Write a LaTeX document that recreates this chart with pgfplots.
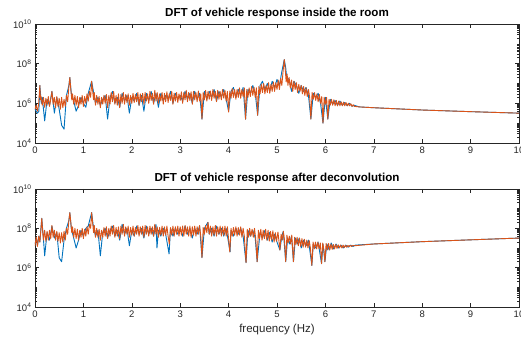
\documentclass[border=0pt]{standalone}
\usepackage{fontspec}
\setmainfont{Liberation Sans}
\usepackage{pgfplots}
\pgfplotsset{compat=1.18}
\usepackage{pgfplotstable}
\definecolor{mblue}{rgb}{0,0.447,0.741}
\definecolor{morange}{rgb}{0.85,0.325,0.098}
\definecolor{axgray}{rgb}{0.15,0.15,0.15}

% blue series, top panel
\pgfplotstableread{
x b
0.00 5.0e5
0.05 3.2e5
0.08 4.0e5
0.10 7.9e6
0.13 1.0e6
0.15 2.0e6
0.20 1.3e5
0.25 1.6e6
0.30 7.9e5
0.35 4.0e6
0.40 3.2e5
0.45 2.0e6
0.50 5.0e5
0.55 7.9e4
0.60 5.0e4
0.65 2.5e6
0.70 7.9e6
0.72 2.0e7
0.75 3.2e6
0.80 1.3e6
0.85 4.0e5
0.90 7.9e5
0.95 2.0e6
1.00 1.0e6
1.05 6.3e5
1.10 3.2e6
1.17 1.3e7
1.20 5.0e6
1.25 1.0e6
1.30 2.0e6
1.35 7.9e5
1.40 1.6e6
1.45 2.5e6
1.50 1.6e5
1.55 2.0e6
1.60 4.0e6
1.65 1.0e6
1.70 2.0e6
1.75 6.3e5
1.80 3.2e6
1.85 1.3e6
1.90 2.5e6
1.95 3.2e5
2.00 2.0e6
2.05 1.3e6
2.10 3.2e6
2.15 7.9e5
2.20 2.5e6
2.25 4.0e5
2.30 3.2e6
2.35 1.3e6
2.40 4.0e6
2.45 1.0e6
2.50 3.2e6
2.55 6.3e5
2.60 3.2e6
2.65 1.3e6
2.70 2.5e6
2.75 1.6e6
2.80 4.0e6
2.85 1.0e6
2.90 3.2e6
2.95 1.6e6
3.00 2.5e6
3.05 1.3e6
3.10 4.0e6
3.15 1.6e6
3.20 3.2e6
3.25 1.0e6
3.30 4.0e6
3.35 1.6e6
3.40 3.2e6
3.45 1.6e5
3.50 4.0e6
3.55 1.6e6
3.60 4.0e6
3.65 2.0e6
3.70 5.0e6
3.75 1.3e6
3.80 4.0e6
3.85 2.0e6
3.90 5.0e6
3.95 1.6e6
4.00 4.0e5
4.05 4.0e6
4.10 6.3e6
4.15 2.0e6
4.20 5.0e6
4.25 2.5e6
4.30 6.3e6
4.35 1.6e5
4.40 5.0e6
4.45 3.2e6
4.50 7.9e6
4.55 3.2e6
4.60 2.5e5
4.65 7.9e6
4.70 1.3e7
4.75 5.0e6
4.80 1.0e7
4.85 4.0e6
4.90 1.3e7
4.95 6.3e6
5.00 1.6e7
5.05 7.9e6
5.10 4.0e7
5.15 1.6e8
5.18 6.3e7
5.20 2.0e7
5.25 1.6e7
5.30 4.0e6
5.35 1.3e7
5.40 7.9e6
5.45 3.2e6
5.50 7.9e6
5.55 4.0e6
5.60 6.3e6
5.65 2.5e6
5.70 1.6e5
5.75 3.2e6
5.80 2.0e6
5.85 3.2e6
5.90 1.0e6
5.95 1.0e5
6.00 2.0e6
6.05 1.6e5
6.10 1.6e6
6.15 8.9e5
6.20 1.4e6
6.25 7.9e5
6.30 1.3e6
6.35 7.9e5
6.40 1.1e6
6.45 7.6e5
6.50 1.0e6
6.55 7.1e5
6.60 7.9e5
6.70 6.6e5
7.00 6.0e5
8.00 4.6e5
9.00 3.8e5
10.00 3.2e5
}\topblue

% orange series, top panel
\pgfplotstableread{
x o
0.000 5.0e5
0.025 8.0e5
0.050 4.0e5
0.075 9.0e5
0.100 7.9e6
0.115 1.5e6
0.125 2.2e6
0.150 8.0e5
0.175 2.0e6
0.200 6.3e5
0.225 1.8e6
0.250 8.0e5
0.275 2.2e6
0.300 7.0e5
0.325 1.6e6
0.350 4.0e6
0.375 9.0e5
0.400 2.0e6
0.425 6.0e5
0.450 2.2e6
0.475 7.0e5
0.500 1.8e6
0.525 5.0e5
0.550 2.0e6
0.575 6.0e5
0.600 1.6e6
0.625 7.0e5
0.650 2.5e6
0.675 1.2e6
0.700 7.0e6
0.720 2.0e7
0.740 5.0e6
0.760 1.5e6
0.775 3.0e6
0.800 9.0e5
0.825 2.5e6
0.850 8.0e5
0.875 2.2e6
0.900 6.0e5
0.925 2.0e6
0.950 9.0e5
0.975 2.5e6
1.000 7.0e5
1.025 2.2e6
1.050 1.0e6
1.075 3.0e6
1.100 1.3e6
1.125 4.0e6
1.150 2.0e6
1.170 1.3e7
1.190 4.5e6
1.210 1.5e6
1.225 3.5e6
1.250 8.0e5
1.275 2.5e6
1.300 9.0e5
1.325 2.2e6
1.350 6.0e5
1.375 2.0e6
1.400 9.0e5
1.425 2.5e6
1.450 1.0e6
1.475 2.8e6
1.500 6.0e5
1.525 2.5e6
1.550 9.0e5
1.575 3.5e6
1.600 1.2e6
1.625 4.0e6
1.650 9.0e5
1.675 2.5e6
1.700 8.0e5
1.725 3.0e6
1.750 6.0e5
1.775 2.8e6
1.800 1.0e6
1.825 3.5e6
1.850 9.0e5
1.875 2.8e6
1.900 1.1e6
1.925 3.0e6
1.950 8.0e5
1.975 2.5e6
2.000 1.0e6
2.025 3.2e6
2.050 1.1e6
2.075 2.8e6
2.100 1.2e6
2.125 3.5e6
2.150 8.0e5
2.175 3.0e6
2.200 1.2e6
2.225 3.2e6
2.250 9.0e5
2.275 3.5e6
2.300 1.3e6
2.325 3.0e6
2.350 1.0e6
2.375 4.0e6
2.400 1.4e6
2.425 3.2e6
2.450 9.0e5
2.475 4.5e6
2.500 1.3e6
2.525 3.5e6
2.550 1.0e6
2.575 3.0e6
2.600 1.3e6
2.625 3.5e6
2.650 9.0e5
2.675 3.2e6
2.700 1.2e6
2.725 3.8e6
2.750 1.1e6
2.775 3.0e6
2.800 1.4e6
2.825 4.0e6
2.850 9.0e5
2.875 3.2e6
2.900 1.3e6
2.925 3.5e6
2.950 1.1e6
2.975 3.0e6
3.000 1.4e6
3.025 3.8e6
3.050 1.0e6
3.075 3.5e6
3.100 1.5e6
3.125 4.5e6
3.150 1.2e6
3.175 3.5e6
3.200 1.4e6
3.225 3.8e6
3.250 9.0e5
3.275 4.0e6
3.300 1.5e6
3.325 3.5e6
3.350 1.2e6
3.375 4.2e6
3.400 1.3e6
3.425 3.0e6
3.450 1.6e5
3.475 3.5e6
3.500 1.5e6
3.525 4.5e6
3.550 1.3e6
3.575 4.0e6
3.600 1.6e6
3.625 4.2e6
3.650 1.4e6
3.675 5.0e6
3.700 1.8e6
3.725 4.0e6
3.750 1.2e6
3.775 4.5e6
3.800 1.6e6
3.825 4.0e6
3.850 1.5e6
3.875 5.0e6
3.900 1.8e6
3.925 4.5e6
3.950 1.3e6
3.975 4.0e6
4.000 3.6e5
4.025 4.2e6
4.050 1.8e6
4.075 5.5e6
4.100 2.0e6
4.125 5.0e6
4.150 1.6e6
4.175 5.0e6
4.200 2.0e6
4.225 6.0e6
4.250 1.8e6
4.275 5.0e6
4.300 2.2e6
4.325 6.0e6
4.350 1.6e5
4.375 5.0e6
4.400 2.0e6
4.425 6.0e6
4.450 2.2e6
4.475 7.0e6
4.500 2.5e6
4.525 6.5e6
4.550 2.0e6
4.575 6.0e6
4.600 2.5e5
4.625 7.0e6
4.650 3.0e6
4.675 9.0e6
4.700 3.5e6
4.725 1.0e7
4.750 3.0e6
4.775 8.0e6
4.800 3.5e6
4.825 1.1e7
4.850 3.2e6
4.875 9.0e6
4.900 4.0e6
4.925 1.2e7
4.950 4.0e6
4.975 1.1e7
5.000 5.0e6
5.025 1.5e7
5.050 5.0e6
5.075 1.8e7
5.100 8.0e6
5.125 4.0e7
5.150 1.6e8
5.170 5.0e7
5.190 1.2e7
5.210 3.0e7
5.225 8.0e6
5.250 2.0e7
5.275 6.0e6
5.300 1.5e7
5.325 4.0e6
5.350 1.3e7
5.375 5.0e6
5.400 1.1e7
5.425 3.5e6
5.450 9.0e6
5.475 4.0e6
5.500 8.0e6
5.525 3.0e6
5.550 7.0e6
5.575 2.5e6
5.600 6.0e6
5.625 2.2e6
5.650 5.0e6
5.675 2.0e6
5.700 1.6e5
5.725 3.5e6
5.750 1.6e6
5.775 3.5e6
5.800 1.4e6
5.825 3.0e6
5.850 1.2e6
5.875 2.8e6
5.900 1.0e6
5.925 2.2e6
5.950 1.0e5
5.975 2.0e6
6.000 9.0e5
6.025 2.0e6
6.050 1.6e5
6.075 1.6e6
6.100 8.0e5
6.125 1.6e6
6.150 8.0e5
6.175 1.5e6
6.200 7.5e5
6.225 1.4e6
6.250 7.5e5
6.275 1.3e6
6.300 7.5e5
6.325 1.2e6
6.350 7.5e5
6.375 1.15e6
6.400 7.5e5
6.425 1.1e6
6.450 7.5e5
6.475 1.0e6
6.500 7.5e5
6.525 9.5e5
6.550 7.0e5
6.575 8.5e5
6.600 7.0e5
6.700 6.6e5
7.000 6.0e5
8.000 4.6e5
9.000 3.8e5
10.000 3.2e5
}\toporange

% blue series, bottom panel
\pgfplotstableread{
x b
0.00 1.6e7
0.03 3.2e7
0.05 1.3e7
0.08 4.0e7
0.10 2.0e7
0.14 3.2e8
0.17 4.0e7
0.20 4.0e6
0.25 6.3e7
0.30 2.5e7
0.35 1.3e8
0.40 3.2e7
0.45 6.3e7
0.50 3.2e6
0.55 2.0e6
0.60 2.5e7
0.65 1.0e8
0.70 2.5e8
0.72 6.3e8
0.75 1.0e8
0.80 3.2e7
0.85 1.0e7
0.90 2.5e7
0.95 7.9e7
1.00 4.0e7
1.05 1.0e8
1.10 1.3e8
1.17 6.3e8
1.20 1.6e8
1.25 4.0e7
1.30 7.9e7
1.35 4.0e6
1.40 6.3e7
1.45 1.0e8
1.50 3.2e7
1.55 7.9e7
1.60 1.3e8
1.65 4.0e7
1.70 7.9e7
1.75 2.5e7
1.80 1.6e8
1.85 5.0e7
1.90 1.0e8
1.95 1.3e7
2.00 7.9e7
2.05 4.0e7
2.10 1.3e8
2.15 5.0e7
2.20 1.0e8
2.25 3.2e7
2.30 1.3e8
2.35 5.0e7
2.40 1.0e8
2.45 4.0e7
2.50 1.6e8
2.52 1.0e7
2.55 7.9e7
2.60 4.0e7
2.65 1.0e8
2.70 5.0e7
2.77 5.0e6
2.80 1.0e8
2.85 4.0e7
2.90 1.0e8
2.95 5.0e7
3.00 1.0e8
3.05 4.0e7
3.10 1.3e8
3.15 5.0e7
3.20 1.0e8
3.25 3.2e7
3.30 1.0e8
3.35 5.0e7
3.40 1.3e8
3.45 3.2e6
3.50 1.0e8
3.57 2.0e8
3.60 5.0e7
3.65 1.0e8
3.70 4.0e7
3.75 1.3e8
3.80 5.0e7
3.85 1.0e8
3.90 4.0e7
3.95 1.0e8
4.03 6.3e6
4.05 7.9e7
4.10 4.0e7
4.15 1.0e8
4.20 5.0e7
4.25 1.0e8
4.30 4.0e7
4.36 1.8e6
4.40 7.9e7
4.45 4.0e7
4.50 7.9e7
4.55 3.2e7
4.59 2.0e6
4.65 6.3e7
4.70 3.2e7
4.75 7.9e7
4.80 2.5e7
4.85 6.3e7
4.90 2.0e7
4.95 5.0e7
5.00 2.0e7
5.06 7.9e6
5.10 4.0e7
5.13 7.1e7
5.18 2.0e6
5.22 3.2e7
5.26 1.6e7
5.30 4.0e7
5.34 2.0e6
5.38 3.2e7
5.42 1.6e7
5.46 3.2e7
5.50 1.0e7
5.55 2.5e7
5.60 1.3e7
5.65 2.5e7
5.72 1.3e6
5.75 1.6e7
5.80 1.0e7
5.85 2.0e7
5.92 1.6e6
5.95 1.6e7
5.99 2.0e6
6.03 1.6e7
6.08 7.9e6
6.12 1.8e7
6.17 8.9e6
6.22 1.6e7
6.27 1.0e7
6.32 1.4e7
6.37 1.0e7
6.42 1.4e7
6.47 1.1e7
6.52 1.4e7
6.57 1.2e7
6.62 1.4e7
7.00 1.6e7
8.00 2.1e7
9.00 2.6e7
10.00 3.2e7
}\botblue

% orange series, bottom panel
\pgfplotstableread{
x o
0.000 1.3e7
0.025 3.5e7
0.050 1.2e7
0.075 4.0e7
0.100 2.0e7
0.120 8.0e7
0.140 3.2e8
0.160 6.0e7
0.175 2.5e7
0.200 8.0e7
0.225 2.2e7
0.250 7.0e7
0.275 2.5e7
0.300 8.0e7
0.325 3.0e7
0.350 1.4e8
0.375 3.5e7
0.400 8.0e7
0.425 2.5e7
0.450 7.0e7
0.475 2.2e7
0.500 6.0e7
0.525 1.8e7
0.550 6.0e7
0.575 2.0e7
0.600 7.0e7
0.625 2.5e7
0.650 1.0e8
0.675 5.0e7
0.700 2.5e8
0.720 6.3e8
0.740 2.0e8
0.760 6.0e7
0.775 1.2e8
0.800 3.5e7
0.825 1.0e8
0.850 3.0e7
0.875 9.0e7
0.900 2.5e7
0.925 8.0e7
0.950 3.5e7
0.975 1.0e8
1.000 3.0e7
1.025 9.0e7
1.050 4.0e7
1.075 1.2e8
1.100 5.0e7
1.125 1.6e8
1.150 1.0e8
1.170 6.3e8
1.190 2.0e8
1.210 6.0e7
1.225 1.4e8
1.250 3.5e7
1.275 1.0e8
1.300 3.5e7
1.325 9.0e7
1.350 2.5e7
1.375 8.0e7
1.400 3.5e7
1.425 1.1e8
1.450 4.0e7
1.475 1.2e8
1.500 3.0e7
1.525 1.0e8
1.550 4.0e7
1.575 1.3e8
1.600 5.0e7
1.625 1.4e8
1.650 3.5e7
1.675 1.1e8
1.700 4.0e7
1.725 1.2e8
1.750 3.0e7
1.775 1.3e8
1.800 5.0e7
1.825 1.6e8
1.850 4.0e7
1.875 1.2e8
1.900 5.0e7
1.925 1.3e8
1.950 3.5e7
1.975 1.1e8
2.000 4.5e7
2.025 1.3e8
2.050 4.0e7
2.075 1.1e8
2.100 5.0e7
2.125 1.4e8
2.150 4.0e7
2.175 1.2e8
2.200 5.0e7
2.225 1.3e8
2.250 3.5e7
2.275 1.4e8
2.300 5.0e7
2.325 1.2e8
2.350 4.0e7
2.375 1.3e8
2.400 5.0e7
2.425 1.2e8
2.450 4.0e7
2.475 1.6e8
2.500 5.0e7
2.525 1.2e8
2.550 3.5e7
2.575 1.1e8
2.600 4.5e7
2.625 1.3e8
2.650 4.0e7
2.675 1.2e8
2.700 4.5e7
2.725 1.3e8
2.750 4.0e7
2.775 1.6e7
2.800 1.1e8
2.825 4.5e7
2.850 1.3e8
2.875 4.0e7
2.900 1.2e8
2.925 5.0e7
2.950 1.3e8
2.975 4.0e7
3.000 1.2e8
3.025 4.5e7
3.050 1.3e8
3.075 4.0e7
3.100 1.4e8
3.125 5.0e7
3.150 1.2e8
3.175 4.0e7
3.200 1.3e8
3.225 3.5e7
3.250 1.2e8
3.275 4.5e7
3.300 1.3e8
3.325 4.0e7
3.350 1.2e8
3.375 5.0e7
3.400 1.4e8
3.425 4.0e7
3.450 3.2e6
3.475 1.1e8
3.500 5.0e7
3.525 1.4e8
3.550 6.0e7
3.575 2.0e8
3.600 5.0e7
3.625 1.3e8
3.650 4.0e7
3.675 1.2e8
3.700 4.5e7
3.725 1.4e8
3.750 4.0e7
3.775 1.2e8
3.800 5.0e7
3.825 1.3e8
3.850 4.0e7
3.875 1.2e8
3.900 4.5e7
3.925 1.3e8
3.950 4.0e7
3.975 1.2e8
4.025 6.3e6
4.050 1.0e8
4.075 4.0e7
4.100 1.1e8
4.125 4.5e7
4.150 1.2e8
4.175 4.0e7
4.200 1.1e8
4.225 4.5e7
4.250 1.2e8
4.275 3.5e7
4.300 1.0e8
4.325 4.0e7
4.360 1.8e6
4.385 9.0e7
4.410 3.5e7
4.435 1.0e8
4.460 4.0e7
4.485 9.0e7
4.510 3.5e7
4.535 1.0e8
4.560 3.0e7
4.590 2.0e6
4.615 8.0e7
4.640 3.0e7
4.665 9.0e7
4.690 2.5e7
4.715 8.0e7
4.740 3.0e7
4.765 9.0e7
4.790 2.5e7
4.815 8.0e7
4.840 2.2e7
4.865 7.0e7
4.890 2.5e7
4.915 7.5e7
4.940 2.0e7
4.965 6.0e7
4.990 2.2e7
5.020 6.5e7
5.060 7.9e6
5.085 5.0e7
5.110 2.5e7
5.130 7.1e7
5.155 2.5e7
5.180 2.0e6
5.205 4.5e7
5.230 1.8e7
5.255 4.0e7
5.280 1.6e7
5.305 4.5e7
5.340 2.0e6
5.365 3.5e7
5.390 1.5e7
5.415 3.5e7
5.440 1.3e7
5.465 3.2e7
5.490 1.2e7
5.515 3.0e7
5.540 1.1e7
5.565 2.8e7
5.590 1.1e7
5.615 2.5e7
5.640 1.0e7
5.665 2.4e7
5.690 1.0e7
5.720 1.3e6
5.745 2.0e7
5.770 9.0e6
5.795 2.0e7
5.820 9.0e6
5.845 2.0e7
5.870 9.0e6
5.895 1.8e7
5.920 1.6e6
5.945 1.8e7
5.970 8.0e6
5.990 2.0e6
6.015 1.7e7
6.040 8.0e6
6.065 1.7e7
6.090 8.0e6
6.115 1.6e7
6.140 8.5e6
6.165 1.5e7
6.190 9.0e6
6.215 1.5e7
6.240 9.5e6
6.265 1.45e7
6.290 1.0e7
6.315 1.4e7
6.340 1.0e7
6.365 1.4e7
6.390 1.05e7
6.415 1.35e7
6.440 1.1e7
6.465 1.35e7
6.490 1.15e7
6.515 1.35e7
6.540 1.2e7
6.565 1.35e7
6.600 1.3e7
7.000 1.6e7
8.000 2.1e7
9.000 2.6e7
10.000 3.2e7
}\botorange

\begin{document}
\begin{tikzpicture}
\useasboundingbox (0pt,0pt) rectangle (521pt,339pt);
\begin{axis}[scale only axis, width=484pt, height=119pt,
    at={(35pt,315pt)}, anchor=north west,
    ymode=log, xmin=0, xmax=10, ymin=1e4, ymax=1e10,
    xtick={0,1,2,3,4,5,6,7,8,9,10},
    ytick={1e4,1e6,1e8,1e10},
    yticklabels={10\textsuperscript{4},10\textsuperscript{6},10\textsuperscript{8},10\textsuperscript{10}},
    minor ytick={2e4,3e4,4e4,5e4,6e4,7e4,8e4,9e4,1e5,2e5,3e5,4e5,5e5,6e5,7e5,8e5,9e5,2e6,3e6,4e6,5e6,6e6,7e6,8e6,9e6,1e7,2e7,3e7,4e7,5e7,6e7,7e7,8e7,9e7,2e8,3e8,4e8,5e8,6e8,7e8,8e8,9e8,1e9,2e9,3e9,4e9,5e9,6e9,7e9,8e9,9e9},
    axis line style={axgray, line width=0.6pt},
    major tick style={axgray, line width=0.5pt},
    minor tick style={axgray, line width=0.5pt},
    major tick length=4pt, minor tick length=2.2pt,
    tick label style={font=\fontsize{9.5}{11}\selectfont, text=axgray},
    title style={font=\bfseries\fontsize{11.6}{13}\selectfont, yshift=-4pt},
    /pgf/number format/assume math mode=true,
    title={DFT of vehicle response inside the room}]
\addplot[mblue, line width=0.9pt, line join=round] table[x=x, y=b]{\topblue};
\addplot[morange, line width=0.9pt, line join=round] table[x=x, y=o]{\toporange};
\end{axis}
\begin{axis}[scale only axis, width=484pt, height=118pt,
    at={(35pt,150pt)}, anchor=north west,
    ymode=log, xmin=0, xmax=10, ymin=1e4, ymax=1e10,
    xtick={0,1,2,3,4,5,6,7,8,9,10},
    ytick={1e4,1e6,1e8,1e10},
    yticklabels={10\textsuperscript{4},10\textsuperscript{6},10\textsuperscript{8},10\textsuperscript{10}},
    minor ytick={2e4,3e4,4e4,5e4,6e4,7e4,8e4,9e4,1e5,2e5,3e5,4e5,5e5,6e5,7e5,8e5,9e5,2e6,3e6,4e6,5e6,6e6,7e6,8e6,9e6,1e7,2e7,3e7,4e7,5e7,6e7,7e7,8e7,9e7,2e8,3e8,4e8,5e8,6e8,7e8,8e8,9e8,1e9,2e9,3e9,4e9,5e9,6e9,7e9,8e9,9e9},
    axis line style={axgray, line width=0.6pt},
    major tick style={axgray, line width=0.5pt},
    minor tick style={axgray, line width=0.5pt},
    major tick length=4pt, minor tick length=2.2pt,
    tick label style={font=\fontsize{9.5}{11}\selectfont, text=axgray},
    title style={font=\bfseries\fontsize{11.6}{13}\selectfont, yshift=-4pt},
    xlabel style={font=\fontsize{11.5}{13}\selectfont, text=axgray},
    /pgf/number format/assume math mode=true,
    title={DFT of vehicle response after deconvolution},
    xlabel={frequency (Hz)}]
\addplot[mblue, line width=0.9pt, line join=round] table[x=x, y=b]{\botblue};
\addplot[morange, line width=0.9pt, line join=round] table[x=x, y=o]{\botorange};
\end{axis}
\end{tikzpicture}
\end{document}
